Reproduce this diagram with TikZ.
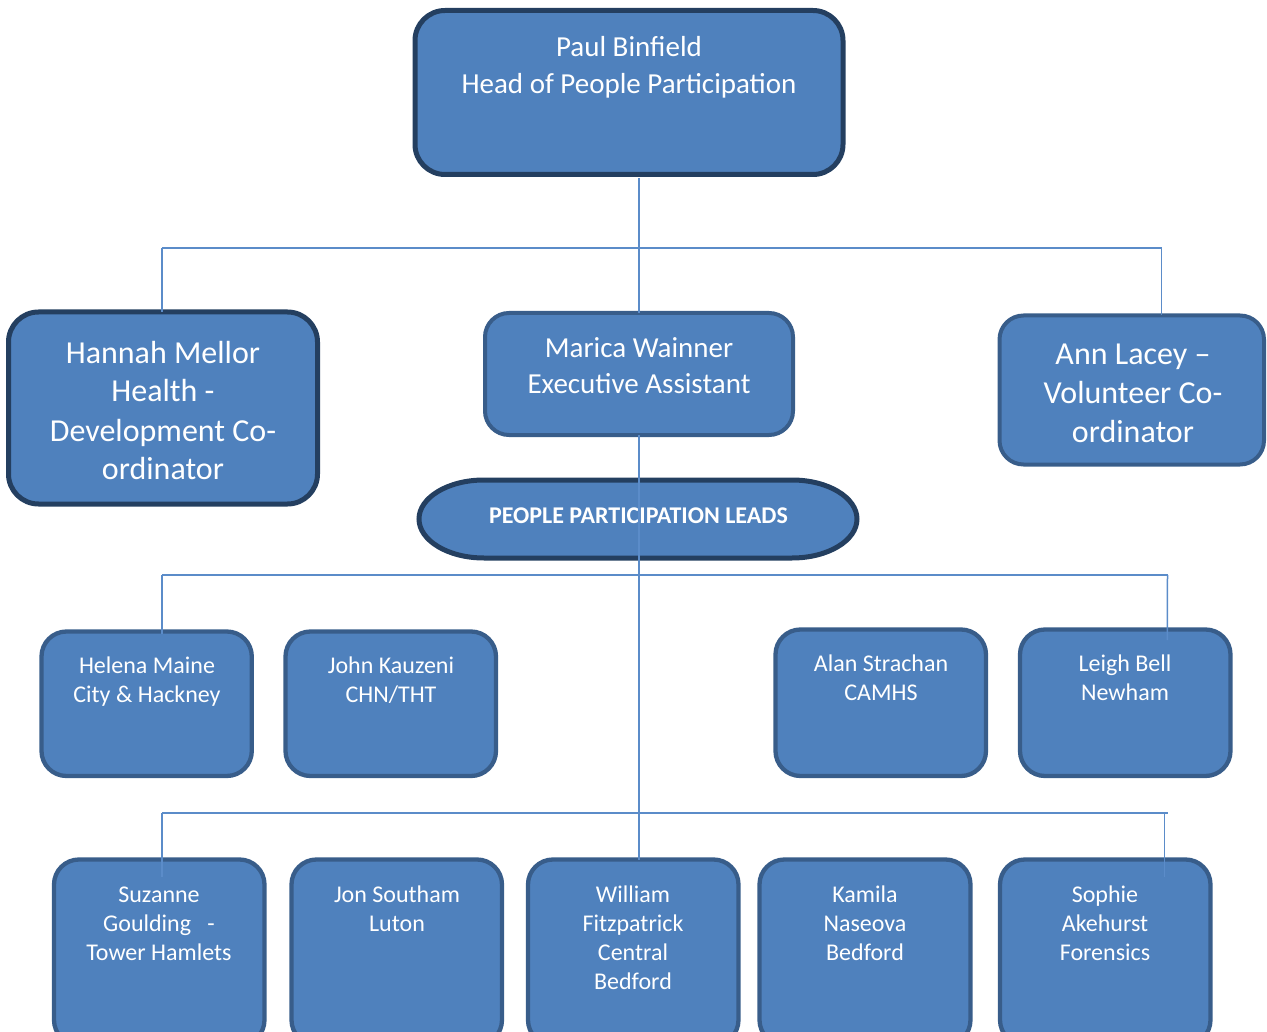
\documentclass[tikz,border=0pt]{standalone}
\usepackage{fontspec}
\setmainfont{Carlito}
\definecolor{boxfill}{HTML}{4F81BD}
\definecolor{darkedge}{HTML}{243F60}
\definecolor{midedge}{HTML}{385D8A}
\definecolor{linkblue}{HTML}{5B8CC9}
\newcommand\ml[1]{\begin{tabular}[t]{@{}c@{}}#1\end{tabular}}
\tikzset{
  boxbase/.style={rectangle, fill=boxfill, outer sep=0pt, inner sep=0pt},
  bigbox/.style={boxbase, draw=darkedge, line width=5pt, rounded corners=30pt},
  midbox/.style={boxbase, draw=midedge, line width=4pt, rounded corners=24pt},
  smallbox/.style={boxbase, draw=midedge, line width=4.3pt, rounded corners=25pt},
  txt/.style={anchor=base, text=white, inner sep=0pt, outer sep=0pt},
  conn/.style={draw=linkblue, line width=1.5pt}
}
\begin{document}
\begin{tikzpicture}[x=1pt, y=-1pt]
\path[use as bounding box] (0,0) rectangle (1267,1032);
\clip (0,0) rectangle (1267,1032);
% top level
\node[bigbox, minimum width=428pt, minimum height=164pt] (paul) at (629,92.5) {};
\node[txt, font=\fontsize{29}{37}\selectfont] (paulT) at (629,57) {\ml{Paul Binfield\\Head of People Participation}};
% second level
\node[bigbox, minimum width=309pt, minimum height=192pt] (hannah) at (163,408) {};
\node[txt, font=\fontsize{32}{39}\selectfont] (hannahT) at (163,363) {\ml{Hannah Mellor\\Health -\\Development Co-\\ordinator}};
\node[midbox, minimum width=308pt, minimum height=122pt] (marica) at (639,374) {};
\node[txt, font=\fontsize{29}{36}\selectfont] (maricaT) at (639,358) {\ml{Marica Wainner\\Executive Assistant}};
\node[midbox, minimum width=264.5pt, minimum height=149pt] (ann) at (1131.75,390) {};
\node[txt, font=\fontsize{32}{39}\selectfont] (annT) at (1133,364.5) {\ml{Ann Lacey –\\Volunteer Co-\\ordinator}};
% people participation leads
\draw[fill=boxfill, draw=darkedge, line width=5pt]
  (484,480) -- (792,480) .. controls (828,480) and (857,497.5) .. (857,519)
  .. controls (857,540.5) and (828,558) .. (792,558) -- (484,558)
  .. controls (448,558) and (419,540.5) .. (419,519)
  .. controls (419,497.5) and (448,480) .. (484,480) -- cycle;
\node[txt, font=\fontsize{24}{29}\selectfont\bfseries] (ppl) at (638.5,523.3) {PEOPLE PARTICIPATION LEADS};
% third level
\node[smallbox, minimum width=210.3pt, minimum height=144.5pt] (helena) at (146.65,703.75) {};
\node[txt, font=\fontsize{24}{29}\selectfont] (helenaT) at (147,673.3) {\ml{Helena Maine\\City \& Hackney}};
\node[smallbox, minimum width=210.5pt, minimum height=144.5pt] (john) at (390.75,703.75) {};
\node[txt, font=\fontsize{24}{29}\selectfont] (johnT) at (391,673.3) {\ml{John Kauzeni\\CHN/THT}};
\node[smallbox, minimum width=210.5pt, minimum height=146.5pt] (alan) at (880.75,702.75) {};
\node[txt, font=\fontsize{24}{29}\selectfont] (alanT) at (881,671) {\ml{Alan Strachan\\CAMHS}};
\node[smallbox, minimum width=210.5pt, minimum height=146.5pt] (leigh) at (1125.25,702.75) {};
\node[txt, font=\fontsize{24}{29}\selectfont] (leighT) at (1125,671) {\ml{Leigh Bell\\Newham}};
% fourth level
\node[smallbox, minimum width=210.5pt, minimum height=185.5pt] (suzanne) at (159.25,952.25) {};
\node[txt, font=\fontsize{24}{29}\selectfont] (suzanneT) at (159,902.7) {\ml{Suzanne\\Goulding\ \ \ -\\Tower Hamlets}};
\node[smallbox, minimum width=210.5pt, minimum height=185.5pt] (jon) at (396.75,952.25) {};
\node[txt, font=\fontsize{24}{29}\selectfont] (jonT) at (397,902.7) {\ml{Jon Southam\\Luton}};
\node[smallbox, minimum width=210.5pt, minimum height=185.5pt] (william) at (633.25,952.25) {};
\node[txt, font=\fontsize{24}{29}\selectfont] (williamT) at (633,902.7) {\ml{William\\Fitzpatrick\\Central\\Bedford}};
\node[smallbox, minimum width=211pt, minimum height=185.5pt] (kamila) at (865,952.25) {};
\node[txt, font=\fontsize{24}{29}\selectfont] (kamilaT) at (865,902.7) {\ml{Kamila\\Naseova\\Bedford}};
\node[smallbox, minimum width=210.5pt, minimum height=185.5pt] (sophie) at (1105.25,952.25) {};
\node[txt, font=\fontsize{24}{29}\selectfont] (sophieT) at (1105,902.7) {\ml{Sophie\\Akehurst\\Forensics}};
% junction coordinates
\coordinate (j1L) at (162,248);
\coordinate (j1R) at (1161.5,248);
\coordinate (j2L) at (162,575);
\coordinate (j2R) at (1167.5,575);
\coordinate (j3L) at (162,813);
\coordinate (j3R) at (1168,813);
\coordinate (helenaIn) at (162,634);
\coordinate (leighIn) at (1167.3,640);
\coordinate (suzanneIn) at (162,877);
\coordinate (sophieIn) at (1164.3,877);
\coordinate (paulOut) at (639,178);
\coordinate (annIn) at (1161.5,315);
% connectors
\draw[conn] (paulOut) -- (paulOut |- marica.north);
\draw[conn] (j1L) -- (j1R);
\draw[conn] (j1L) -- (j1L |- hannah.north);
\draw[conn] (j1R) -- (annIn);
\draw[conn] (marica.south) -- (marica.south |- william.north);
\draw[conn] (j2L) -- (j2R);
\draw[conn] (j2L) -- (helenaIn);
\draw[conn] (j2R |- j2L) -- (leighIn);
\draw[conn] (j3L) -- (j3R);
\draw[conn] (j3L) -- (suzanneIn);
\draw[conn] (sophieIn |- j3L) -- (sophieIn);
\end{tikzpicture}
\end{document}
